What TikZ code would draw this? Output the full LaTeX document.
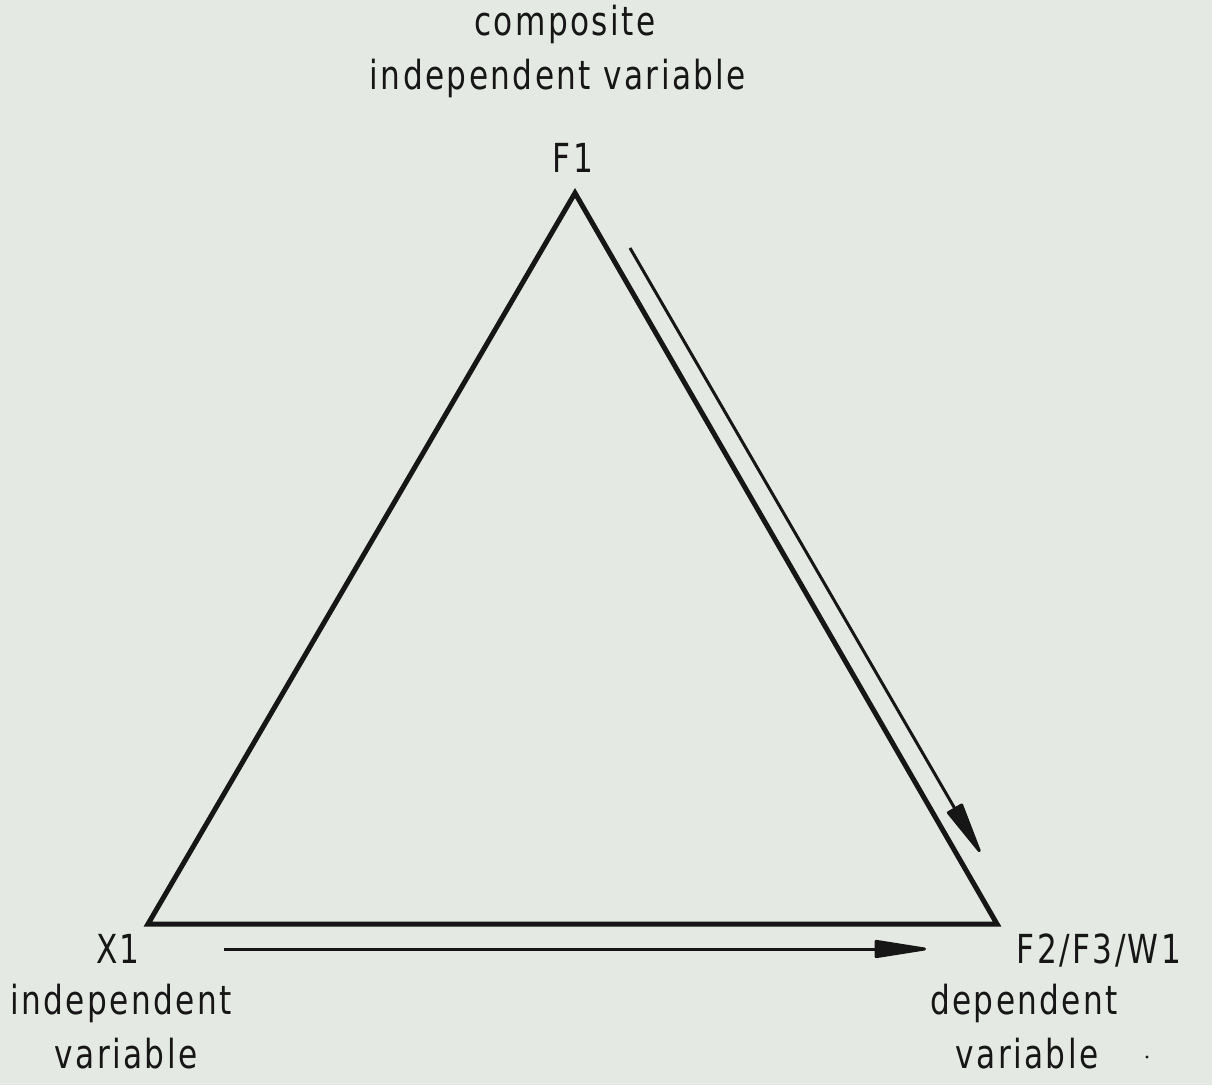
\documentclass[tikz,border=0pt]{standalone}
\usepackage{fontspec}
\setmainfont{DejaVu Sans}[FakeStretch=0.78,LetterSpace=6]
\usetikzlibrary{arrows.meta}
\definecolor{paper}{RGB}{229,233,227}
\definecolor{ink}{RGB}{22,22,22}
\tikzset{
  edge/.style={draw=ink,line width=5pt,line join=miter},
  flow/.style={draw=ink,line width=3pt,-{Triangle[length=60pt,width=18pt,round]}},
  lbl/.style={inner sep=0pt,anchor=base,text=ink,font=\fontsize{40}{48}\selectfont}
}
\begin{document}
\begin{tikzpicture}[x=1pt,y=1pt]
\fill[paper] (0,0) rectangle (1212,1085);
\useasboundingbox (0,0) rectangle (1212,1085);
\coordinate (F1) at (575,892);
\coordinate (X1) at (148,161);
\coordinate (F2) at (997,161);
\draw[edge] (F1) -- (F2) -- (X1) -- cycle;
\coordinate (a1) at (630,837);
\coordinate (a2) at (980,233);
\coordinate (b1) at (224,136);
\coordinate (b2) at (926,136);
\draw[flow] (a1) -- (a2);
\draw[flow] (b1) -- (b2);
\node[lbl] (t1) at (565,1049) {composite};
\node[lbl] (t2) at (558,995) {independent variable};
\node[lbl] (t3) at (573,912) {F1};
\node[lbl] (t4) at (118,122) {X1};
\node[lbl] (t5) at (121,71) {independent};
\node[lbl] (t6) at (126,17) {variable};
\node[lbl] (t7) at (1099,122) {F2/F3/W1};
\node[lbl] (t8) at (1024,71) {dependent};
\node[lbl] (t9) at (1027,17) {variable};
\fill[ink] (1147,28) circle (1.6pt);
\end{tikzpicture}
\end{document}
